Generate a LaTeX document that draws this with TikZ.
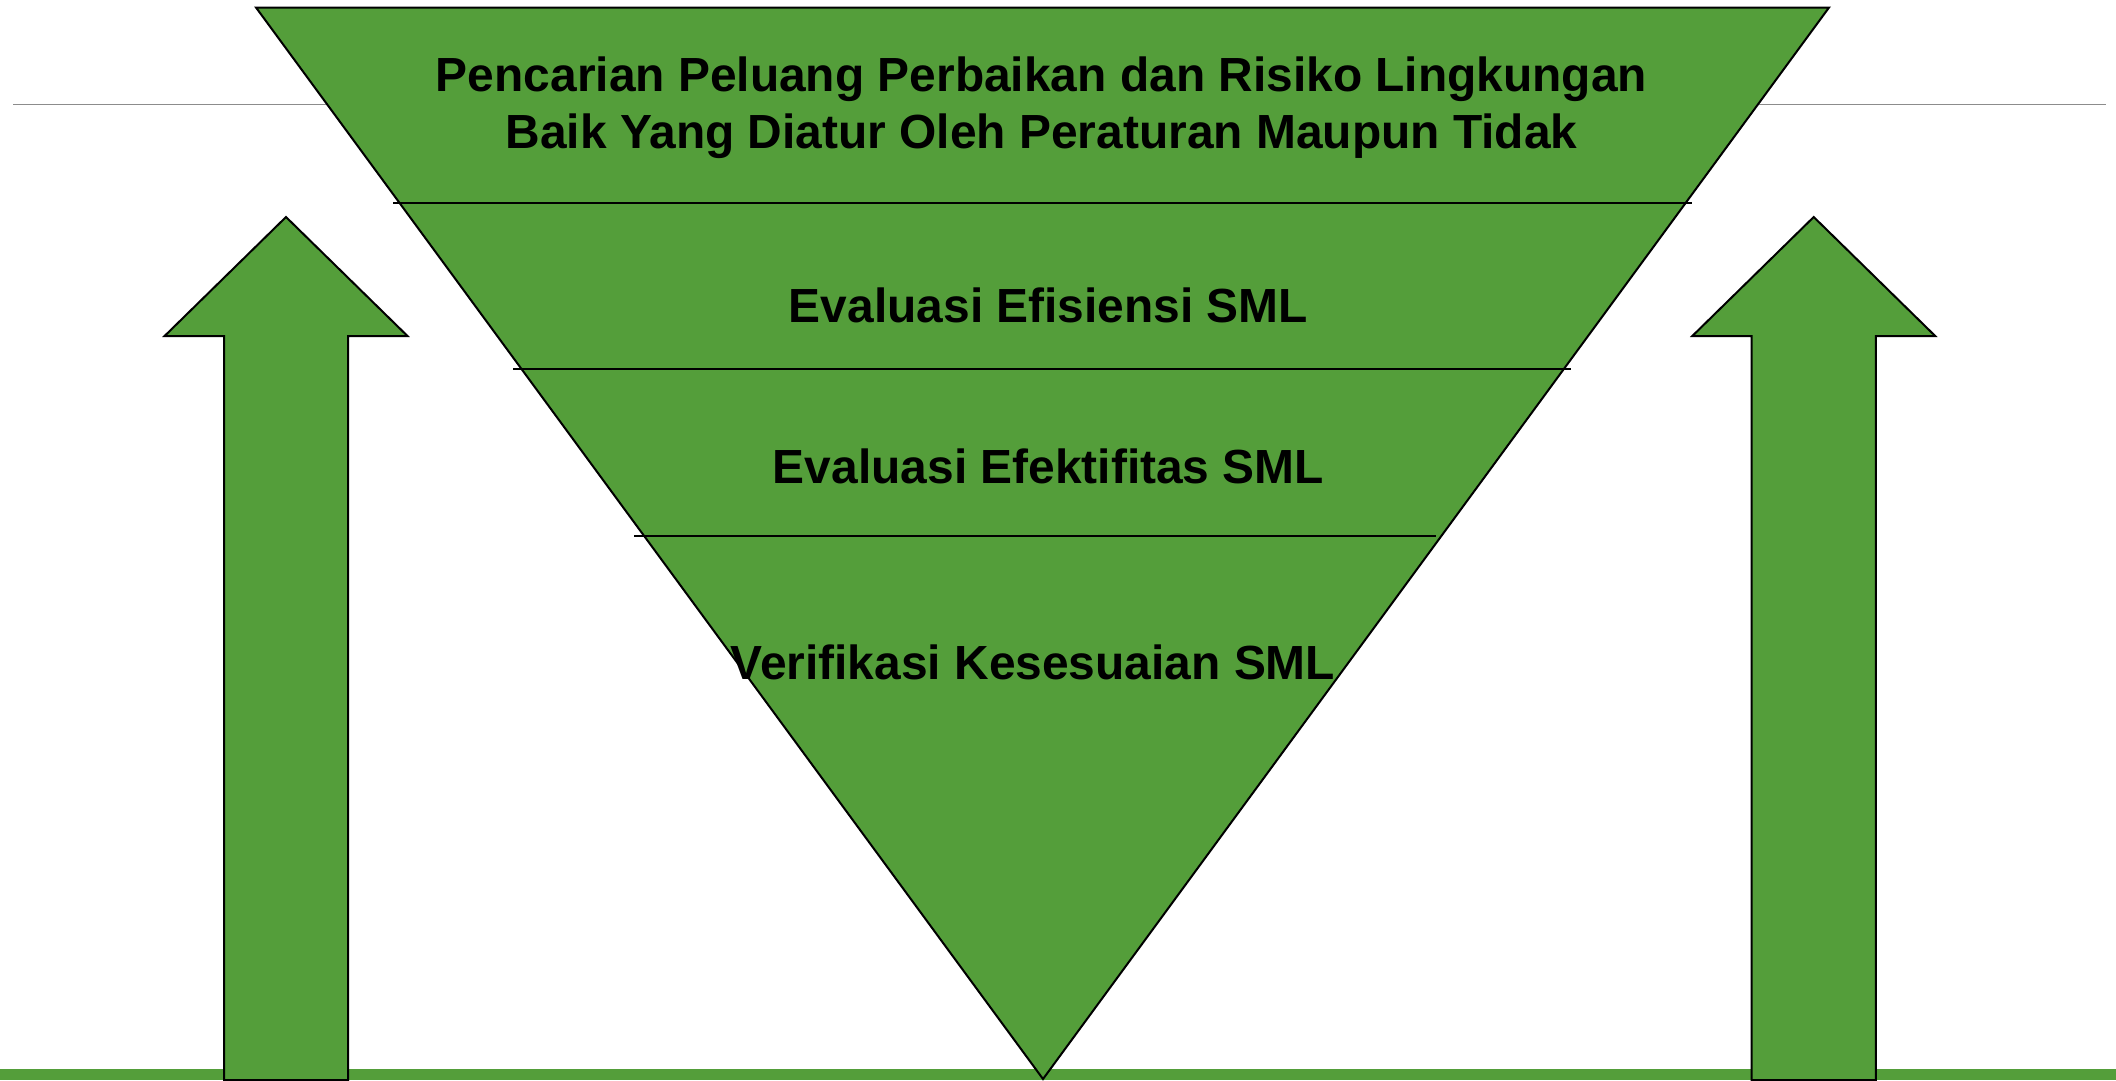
\documentclass[tikz,border=0pt]{standalone}
\usepackage{fontspec}
\setmainfont{Liberation Sans}
\definecolor{lgreen}{RGB}{84,158,58}
\definecolor{lgray}{RGB}{140,140,140}
\tikzset{
  shapefill/.style={fill=lgreen, draw=black, line width=2pt, line join=miter},
  divider/.style={draw=black, line width=2pt},
  lbl/.style={font=\bfseries\fontsize{47.9}{56.6}\selectfont, text=black, inner sep=0pt, align=center, anchor=base}
}
\begin{document}
\begin{tikzpicture}[x=1pt,y=-1pt]
\useasboundingbox (0,0) rectangle (2116,1080);
\fill[white] (0,0) rectangle (2116,1080);
% thin gray rule
\draw[lgray, line width=1.2pt] (13,104.3) -- (2106,104.3);
% bottom green bar
\fill[lgreen] (0,1069) rectangle (2116,1080);
% left arrow
\draw[shapefill] (286,217) -- (407.5,336) -- (348,336) -- (348,1080) -- (224,1080) -- (224,336) -- (164.6,336) -- cycle;
% right arrow
\draw[shapefill] (1813.7,217) -- (1935.2,336) -- (1875.8,336) -- (1875.8,1080) -- (1751.6,1080) -- (1751.6,336) -- (1692.3,336) -- cycle;
% inverted triangle
\draw[shapefill] (256,7.5) -- (1829,7.5) -- (1043,1079) -- cycle;
% dividers
\draw[divider] (393,202.5) -- (1692,202.5);
\draw[divider] (513,369) -- (1571,369);
\draw[divider] (634,535.5) -- (1436,535.5);
% labels
\node[lbl] (t1) at (1041.5,148.3) {Pencarian Peluang Perbaikan dan Risiko Lingkungan\\Baik Yang Diatur Oleh Peraturan Maupun Tidak};
\node[lbl] (t2) at (1048.5,322) {Evaluasi Efisiensi SML};
\node[lbl] (t3) at (1048.5,483) {Evaluasi Efektifitas SML};
\node[lbl] (t4) at (1033,679) {Verifikasi Kesesuaian SML};
\end{tikzpicture}
\end{document}
